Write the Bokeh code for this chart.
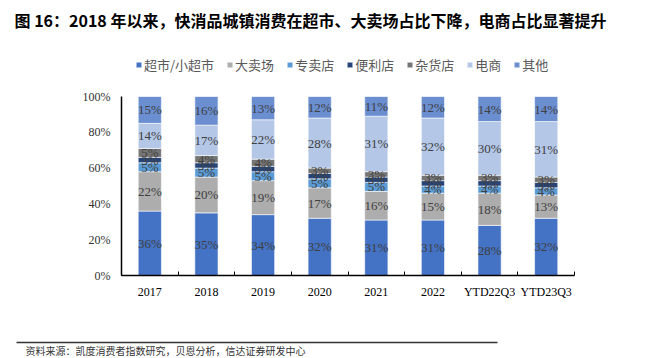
from bokeh.plotting import figure
from bokeh.layouts import column, row
from bokeh.models import (Range1d, FixedTicker, NumeralTickFormatter, Legend,
                          ColumnDataSource, LabelSet)
from bokeh.core.properties import value
from bokeh.embed import file_html
from bokeh.resources import INLINE

categories = ["2017", "2018", "2019", "2020", "2021", "2022", "YTD22Q3", "YTD23Q3"]
series_names = ["超市/小超市", "大卖场", "专卖店", "便利店", "杂货店", "电商", "其他"]
supermarket = [36, 35, 34, 32, 31, 31, 28, 32]
hypermarket = [22, 20, 19, 17, 16, 15, 18, 13]
specialty = [5, 5, 5, 5, 5, 4, 4, 4]
convenience = [3, 3, 3, 3, 3, 3, 3, 3]
grocery = [5, 4, 4, 3, 3, 3, 3, 3]
ecommerce = [14, 17, 22, 28, 31, 32, 30, 31]
others = [15, 16, 13, 12, 11, 12, 14, 14]
y_ticks = [0, 0.2, 0.4, 0.6, 0.8, 1.0]
title_text = "图 16：2018 年以来，快消品城镇消费在超市、大卖场占比下降，电商占比显著提升"
source_text = "资料来源：凯度消费者指数研究，贝恩分析，信达证券研发中心"

colors = ["#4472C4", "#ADADAD", "#5B9BD5", "#264478", "#757575", "#B4C7E7", "#6A8ED0"]
series = [supermarket, hypermarket, specialty, convenience, grocery, ecommerce, others]
keys = ["s%d" % i for i in range(len(series))]

W = 643
H_HEAD, H_MAIN, H_FOOT = 86, 219, 52
CJK = "Noto Sans CJK SC"


def blank(h):
    f = figure(width=W, height=h, output_backend="svg", toolbar_location=None,
               x_range=Range1d(0, W), y_range=Range1d(h, 0),
               x_axis_location=None, y_axis_location=None,
               min_border=0, min_border_left=0, min_border_right=0,
               min_border_top=0, min_border_bottom=0)
    f.outline_line_color = None
    f.xgrid.visible = False
    f.ygrid.visible = False
    return f


# ---------- header (title + legend) ----------
hp = blank(H_HEAD)
hp.text(x=[14], y=[19], text=[title_text], text_font=value(CJK),
        text_font_style="bold", text_font_size="16px", text_color="black",
        text_baseline="middle")
# legend swatch renderers (one zero-height bar each, placed off-canvas)
swatch_src = ColumnDataSource(dict(x=[-1000], top=[0], bottom=[0]))
swatches = [hp.vbar(x="x", top="top", bottom="bottom", width=1, source=swatch_src,
                    fill_color=c, line_color="white", line_width=0.6)
            for c in colors]
legend = Legend(items=[(nm, [r]) for nm, r in zip(series_names, swatches)],
                orientation="horizontal", location=(135, 12),
                label_text_font=CJK, label_text_font_size="13px",
                label_text_color="#595959", glyph_width=7, glyph_height=7,
                label_standoff=2, spacing=12, padding=0, margin=0,
                border_line_color=None, background_fill_alpha=0)
hp.add_layout(legend)

# ---------- main chart ----------
n = len(categories)
xc = [i + 0.5 for i in range(n)]
data = {"x": xc}
for k, s in zip(keys, series):
    data[k] = [v / 100 for v in s]
src = ColumnDataSource(data)

p = figure(width=W, height=H_MAIN, output_backend="svg", toolbar_location=None,
           x_range=Range1d(0, n), y_range=Range1d(0, 1),
           min_border_left=121, min_border_right=69,
           min_border_top=10, min_border_bottom=30)
p.outline_line_color = None
p.xgrid.visible = False
p.ygrid.visible = False

rs = p.vbar_stack(keys, x="x", width=0.41, source=src, color=colors,
                  line_color="white", line_width=0.6)

lab_x, lab_y, lab_t = [], [], []
for i in range(n):
    base = 0
    for s in series:
        v = s[i] / 100
        lab_x.append(xc[i]); lab_y.append(base + v / 2); lab_t.append("%d%%" % s[i])
        base += v
lsrc = ColumnDataSource(dict(x=lab_x, y=lab_y, t=lab_t))
p.add_layout(LabelSet(x="x", y="y", text="t", source=lsrc, text_align="center",
                      text_baseline="middle", text_font="Liberation Serif",
                      text_font_size="13px", text_color="#404040"))

p.xaxis.ticker = FixedTicker(ticks=xc, minor_ticks=list(range(n + 1)))
p.xaxis.major_label_overrides = {x: c for x, c in zip(xc, categories)}
p.xaxis.major_tick_in = 0
p.xaxis.major_tick_out = 0
p.xaxis.minor_tick_in = 4
p.xaxis.minor_tick_out = 0
p.xaxis.minor_tick_line_color = "black"
p.xaxis.axis_line_color = "black"
p.xaxis.axis_line_width = 1.5
p.xaxis.major_label_text_font = "Liberation Serif"
p.xaxis.major_label_text_font_size = "12px"
p.xaxis.major_label_text_color = "black"
p.xaxis.major_label_standoff = 9

p.yaxis.ticker = FixedTicker(ticks=y_ticks)
p.yaxis.formatter = NumeralTickFormatter(format="0%")
p.yaxis.major_tick_in = 0
p.yaxis.major_tick_out = 0
p.yaxis.minor_tick_line_color = None
p.yaxis.axis_line_color = "black"
p.yaxis.axis_line_width = 1.5
p.yaxis.major_label_text_font = "Liberation Serif"
p.yaxis.major_label_text_font_size = "12px"
p.yaxis.major_label_text_color = "#333333"
p.yaxis.major_label_standoff = 11

# ---------- footer ----------
fp = blank(H_FOOT)
fp.segment(x0=[16], y0=[37], x1=[497], y1=[37], line_color="#333333", line_width=1.5)
fp.text(x=[25], y=[45], text=[source_text], text_font=value(CJK),
        text_font_size="10px", text_color="#333333", text_baseline="middle")

layout = column(row(hp), row(p), row(fp), spacing=0)
open("out.html", "w").write(file_html(layout, INLINE))
